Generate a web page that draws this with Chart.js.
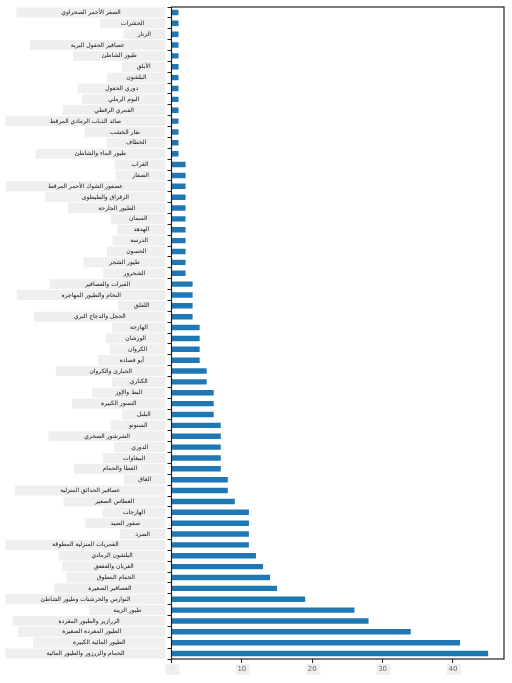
<!DOCTYPE html>
<html>
<head>
<meta charset="utf-8">
<script src="https://cdn.jsdelivr.net/npm/chart.js@4.4.1/dist/chart.umd.min.js"></script>
<style>
  html, body { margin: 0; padding: 0; background: #fff; }
  #wrap { width: 512px; height: 683px; }
</style>
</head>
<body>
<div id="wrap"><canvas id="chart"></canvas></div>
<script>
// categories, top to bottom
const categories = [
    'الصقر الأحمر الصحراوي', 'الحشرات', 'الزنار', 'عصافير الحقول البرية', 'طيور الشاطئ',
    'الأبلق', 'البلشون', 'دوري الحقول', 'البوم الرملي', 'القمري الرقطي',
    'صائد الذباب الرمادي المرقط', 'نقار الخشب', 'الخطاف', 'طيور الماء والشاطئ', 'الغراب',
    'الصفار', 'عصفور الشوك الأحمر المرقط', 'الزقزاق والطيطوى', 'الطيور الجارحة', 'السمان',
    'الهدهد', 'الدرسة', 'الحسون', 'طيور الشجر', 'الشحرور',
    'القبرات والعصافير', 'النحام والطيور المهاجرة', 'اللقلق', 'الحجل والدجاج البري', 'الهازجة',
    'الورشان', 'الكروان', 'أبو فصادة', 'الحبارى والكروان', 'الكناري',
    'البط والإوز', 'النسور الكبيرة', 'البلبل', 'السنونو', 'الشرشور الصخري',
    'الدوري', 'الببغاوات', 'القطا والحمام', 'الغاق', 'عصافير الحدائق المنزلية',
    'الغطاس الصغير', 'الهازجات', 'صقور الصيد', 'الصرد', 'القمريات المنزلية المطوقة',
    'البلشون الرمادي', 'الغربان والعقعق', 'الحمام المطوق', 'العصافير الصغيرة', 'النوارس والخرشنات وطيور الشاطئ',
    'طيور الزينة', 'الزرازير والطيور المغردة', 'الطيور المغردة الصغيرة', 'الطيور المائية الكبيرة', 'الحمام والزرزور والطيور المائية'
];

const counts = [
    1, 1, 1, 1, 1, 1, 1, 1, 1, 1, 1, 1, 1, 1,
    2, 2, 2, 2, 2, 2, 2, 2, 2, 2, 2,
    3, 3, 3, 3,
    4, 4, 4, 4,
    5, 5,
    6, 6, 6,
    7, 7, 7, 7, 7,
    8, 8,
    9,
    11, 11, 11, 11,
    12, 13, 14, 15, 19, 26, 28, 34, 41, 45
];

const xTicks = [0, 10, 20, 30, 40];

const labelFont = '6px "DejaVu Sans"';

// draws the frame and the boxed tick labels
const labelBoxes = {
    id: 'labelBoxes',
    afterDraw(chart) {
        const ctx = chart.ctx;
        const area = chart.chartArea;
        const y = chart.scales.y;
        const x = chart.scales.x;
        ctx.save();
        ctx.font = labelFont;
        ctx.textBaseline = 'middle';
        ctx.textAlign = 'center';
        categories.forEach((name, i) => {
            const py = y.getPixelForTick(i);
            const w = ctx.measureText(name).width;
            const bw = Math.min(160, w * 2.3 + 12);
            const right = area.left - 6;
            ctx.fillStyle = '#efefef';
            ctx.fillRect(right - bw, py - 5, bw, 10);
            ctx.fillStyle = '#111';
            ctx.fillText(name, right - bw / 2, py);
        });
        ctx.font = '7px "DejaVu Sans"';
        xTicks.forEach(v => {
            const px = x.getPixelForValue(v);
            ctx.fillStyle = '#f0f0f0';
            ctx.fillRect(px - 6, area.bottom + 5, 14, 11);
            ctx.fillStyle = v === 0 ? '#e0e0e0' : '#666';
            ctx.fillText(String(v), px, area.bottom + 10);
        });
        ctx.strokeStyle = '#222';
        ctx.lineWidth = 1.2;
        ctx.strokeRect(area.left, area.top, area.right - area.left, area.bottom - area.top);
        ctx.restore();
    }
};

new Chart(document.getElementById('chart'), {
    type: 'bar',
    data: {
        labels: categories,
        datasets: [{
            data: counts,
            backgroundColor: '#1f77b4',
            borderWidth: 0,
            categoryPercentage: 1,
            barPercentage: 0.5
        }]
    },
    options: {
        indexAxis: 'y',
        responsive: true,
        maintainAspectRatio: false,
        animation: false,
        layout: { padding: { top: 7, right: 8 } },
        plugins: {
            legend: { display: false },
            tooltip: { enabled: false }
        },
        scales: {
            x: {
                min: 0,
                max: 47.25,
                afterBuildTicks: s => { s.ticks = xTicks.map(v => ({ value: v })); },
                afterFit: s => { s.height = 24; },
                ticks: { color: 'rgba(0,0,0,0)', font: { size: 7 } },
                grid: { drawOnChartArea: false, tickLength: 4, color: '#222' },
                border: { display: false }
            },
            y: {
                afterFit: s => { s.width = 171.5; },
                ticks: { autoSkip: false, color: 'rgba(0,0,0,0)', font: { size: 6 } },
                grid: { drawOnChartArea: false, tickLength: 4, color: '#222' },
                border: { display: false }
            }
        }
    },
    plugins: [labelBoxes]
});
</script>
</body>
</html>
